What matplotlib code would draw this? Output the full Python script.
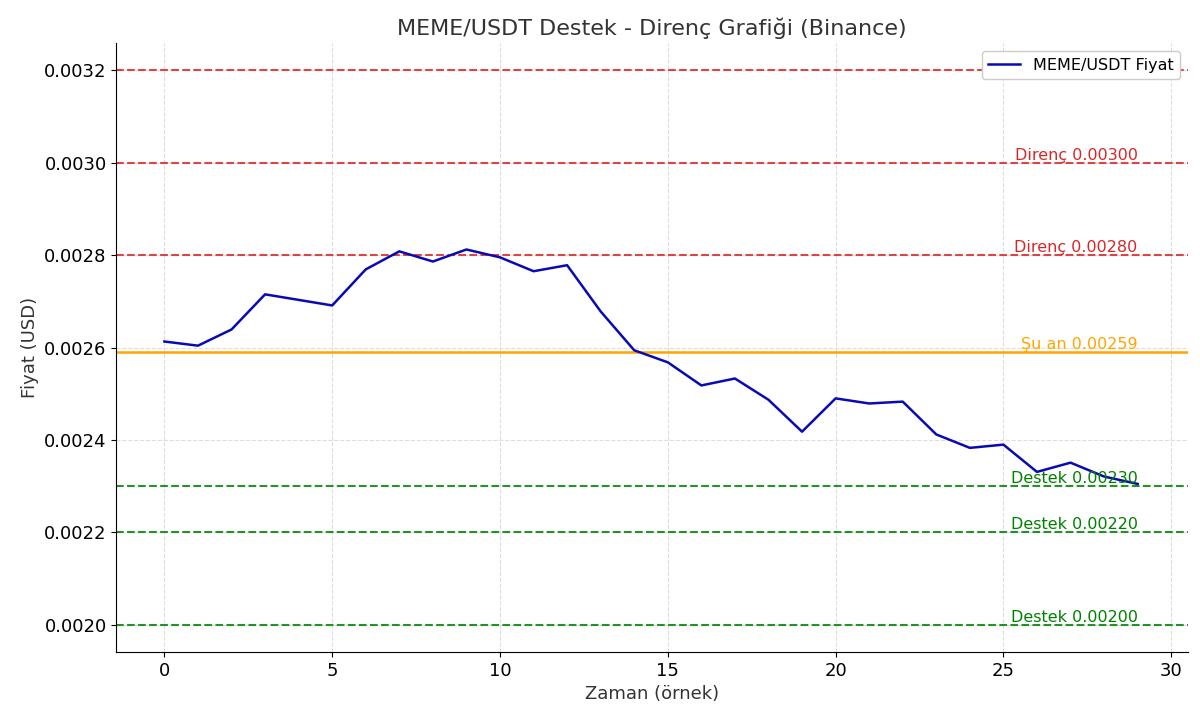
import matplotlib
matplotlib.use("Agg")
import matplotlib.pyplot as plt

x = list(range(30))
price = [0.002613, 0.002604, 0.002639, 0.002715, 0.002703, 0.002691, 0.002769, 0.002808,
         0.002786, 0.002812, 0.002795, 0.002765, 0.002778, 0.002678, 0.002594, 0.002568,
         0.002518, 0.002533, 0.002487, 0.002418, 0.002490, 0.002479, 0.002483, 0.002412,
         0.002383, 0.002390, 0.002331, 0.002351, 0.002321, 0.002305]
resistances = [0.00280, 0.00300, 0.00320]
supports = [0.00230, 0.00220, 0.00200]
current = 0.00259

fig, ax = plt.subplots(figsize=(12, 7.21), dpi=100)
ax.plot(x, price, color="#0a0ab4", lw=1.8, label="MEME/USDT Fiyat", zorder=3)
for r in resistances:
    ax.axhline(r, color="#d62728", ls="--", lw=1.5, alpha=0.85)
    ax.text(29, r, f"Direnç {r:.5f}", color="#d62728", ha="right", va="bottom", fontsize=11.5)
ax.axhline(current, color="orange", lw=1.8)
ax.text(29, current, f"Şu an {current:.5f}", color="orange", ha="right", va="bottom", fontsize=11.5)
for s in supports:
    ax.axhline(s, color="green", ls="--", lw=1.5, alpha=0.85)
    ax.text(29, s, f"Destek {s:.5f}", color="green", ha="right", va="bottom", fontsize=11.5)

ax.set_xlim(-1.43, 30.5)
ax.set_ylim(0.001942, 0.003258)
ax.set_title("MEME/USDT Destek - Direnç Grafiği (Binance)", fontsize=16, color="#333333")
ax.set_xlabel("Zaman (örnek)", fontsize=13, color="#333333")
ax.set_ylabel("Fiyat (USD)", fontsize=13, color="#333333")
ax.tick_params(labelsize=13)
ax.grid(True, ls="--", color="#dddddd", lw=0.8)
for sp in ["top", "right"]:
    ax.spines[sp].set_visible(False)
ax.legend(loc="upper right", fontsize=11.5, framealpha=1)
fig.subplots_adjust(left=0.097, right=0.99, top=0.94, bottom=0.096)
fig.savefig("out.png")
